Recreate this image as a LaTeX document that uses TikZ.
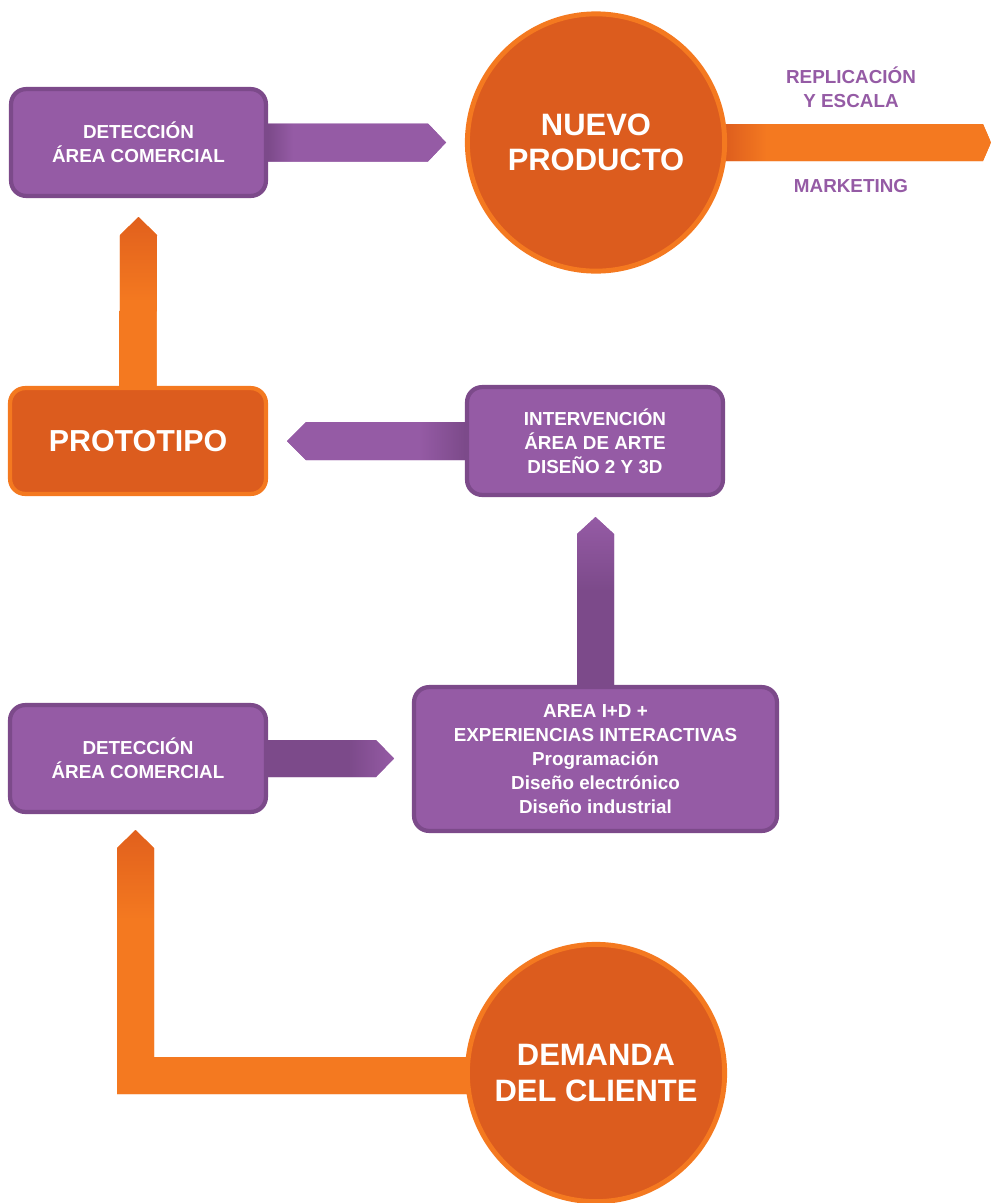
\documentclass[tikz,border=0pt]{standalone}
\usepackage{fontspec}
\setmainfont{Liberation Sans}
\usetikzlibrary{calc,backgrounds}

\definecolor{morado}{HTML}{955BA5}
\definecolor{moradoosc}{HTML}{7C4A8A}
\definecolor{naranja}{HTML}{F47920}
\definecolor{naranjaosc}{HTML}{DC5C1E}
\definecolor{naranjapunta}{HTML}{E1601D}

% degradados de las flechas (la caja del trazo va de 25bp a 75bp)
\pgfdeclarehorizontalshading{degA}{100bp}{color(0bp)=(moradoosc); color(25bp)=(moradoosc); color(32bp)=(morado); color(100bp)=(morado)}
\pgfdeclarehorizontalshading{degB}{100bp}{color(0bp)=(naranjaosc); color(26bp)=(naranjaosc); color(34bp)=(naranja); color(100bp)=(naranja)}
\pgfdeclareverticalshading{degC}{100bp}{color(0bp)=(naranja); color(50bp)=(naranja); color(75bp)=(naranjapunta); color(100bp)=(naranjapunta)}
\pgfdeclarehorizontalshading{degD}{100bp}{color(0bp)=(morado); color(62bp)=(morado); color(75bp)=(moradoosc); color(100bp)=(moradoosc)}
\pgfdeclareverticalshading{degE}{100bp}{color(0bp)=(moradoosc); color(53bp)=(moradoosc); color(75bp)=(morado); color(100bp)=(morado)}
\pgfdeclarehorizontalshading{degF}{100bp}{color(0bp)=(moradoosc); color(57bp)=(moradoosc); color(75bp)=(morado); color(100bp)=(morado)}
\pgfdeclareverticalshading{degG}{100bp}{color(0bp)=(naranja); color(58bp)=(naranja); color(75bp)=(naranjapunta); color(100bp)=(naranjapunta)}

\tikzset{
	caja/.style={rectangle,rounded corners=0.375cm,draw=moradoosc,line width=3pt,fill=morado,
		text=white,font=\bfseries\fontsize{13.4}{17}\selectfont,align=center,inner sep=0pt},
	cajanaranja/.style={caja,draw=naranja,fill=naranjaosc,font=\bfseries\fontsize{21.6}{25}\selectfont},
	circulo/.style={circle,draw=naranja,line width=3.5pt,fill=naranjaosc,text=white,
		font=\bfseries\fontsize{22}{25}\selectfont,align=center,minimum size=6.43cm,inner sep=0pt},
	etiqueta/.style={text=morado,font=\bfseries\fontsize{13.4}{17}\selectfont,align=center},
	flechamorada/.style={shading=#1,preaction={fill=morado}},
	flechanaranja/.style={shading=#1,preaction={fill=naranja}}
}

\begin{document}
\begin{tikzpicture}[x=0.025cm,y=-0.025cm]
	\useasboundingbox (0,0) rectangle (991,1203);
	% nodos
	\draw (138.5,142.5) node [caja,minimum width=6.37cm,minimum height=2.67cm] (d1) {DETECCIÓN\\ÁREA COMERCIAL};
	\draw (596,142.5) node [circulo] (np) {NUEVO\\PRODUCTO};
	\draw (138,441) node [cajanaranja,minimum width=6.395cm,minimum height=2.645cm] (proto) {PROTOTIPO};
	\draw (595,441) node [caja,minimum width=6.395cm,minimum height=2.695cm] (int) {INTERVENCIÓN\\ÁREA DE ARTE\\DISEÑO 2 Y 3D};
	\draw (595.5,759) node [caja,minimum width=9.07cm,minimum height=3.595cm] (area) {AREA I+D +\\EXPERIENCIAS INTERACTIVAS\\Programación\\Diseño electrónico\\Diseño industrial};
	\draw (138,758.5) node [caja,minimum width=6.395cm,minimum height=2.67cm] (d2) {DETECCIÓN\\ÁREA COMERCIAL};
	\draw (596,1073) node [circulo] (dem) {DEMANDA\\DEL CLIENTE};
	\draw (851,87) node [etiqueta] (repl) {REPLICACIÓN\\Y ESCALA};
	\draw (851,186.5) node [etiqueta] (mkt) {MARKETING};
	% puntas de flecha
	\coordinate (t1) at (446,142.5);
	\coordinate (t2) at (991,142.5);
	\coordinate (t3) at (138.5,217);
	\coordinate (t4) at (287,441);
	\coordinate (t5) at (595.5,517);
	\coordinate (t6) at (394,758.5);
	\coordinate (t7) at (135.5,830);
	% codo de la flecha de demanda
	\coordinate (c7i) at (117,1094);
	\coordinate (c7d) at (154,1057);
	\begin{scope}[on background layer]
		% detección -> nuevo producto
		\shade[flechamorada=degA] ($(d1.east)+(0,-19)$) -- ($(t1)+(-18,-19)$) -- (t1) -- ($(t1)+(-18,19)$) -- ($(d1.east)+(0,19)$) -- cycle;
		% nuevo producto -> afuera
		\shade[flechanaranja=degB] ($(np.east)+(-10,-18.5)$) -- ($(t2)+(-8,-18.5)$) -- (t2) -- ($(t2)+(-8,18.5)$) -- ($(np.east)+(-10,18.5)$) -- cycle;
		% prototipo -> detección
		\shade[flechanaranja=degC] ($(proto.north)+(-18.5,0)$) -- ($(t3)+(-18.5,18)$) -- (t3) -- ($(t3)+(18.5,18)$) -- ($(proto.north)+(18.5,0)$) -- cycle;
		% intervención -> prototipo
		\shade[flechamorada=degD] (int.west |- 0,422) -- ($(t4)+(19,-19)$) -- (t4) -- ($(t4)+(19,19)$) -- (int.west |- 0,460) -- cycle;
		% area i+d -> intervención
		\shade[flechamorada=degE] ($(area.north)+(-18.5,0)$) -- ($(t5)+(-18.5,17)$) -- (t5) -- ($(t5)+(18.5,17)$) -- ($(area.north)+(18.5,0)$) -- cycle;
		% detección -> area i+d
		\shade[flechamorada=degF] ($(d2.east)+(0,-18.5)$) -- ($(t6)+(-18,-18.5)$) -- (t6) -- ($(t6)+(-18,18.5)$) -- ($(d2.east)+(0,18.5)$) -- cycle;
		% demanda -> detección
		\shade[flechanaranja=degG] (dem.center |- c7d) -- (c7d) -- ($(t7)+(18.5,18)$) -- (t7) -- ($(t7)+(-18.5,18)$) -- (c7i) -- (dem.center |- c7i) -- cycle;
	\end{scope}
\end{tikzpicture}
\end{document}
